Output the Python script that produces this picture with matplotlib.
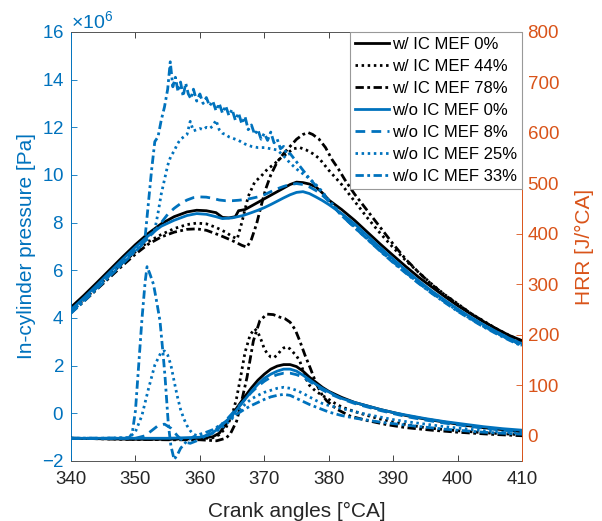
import matplotlib
matplotlib.use('Agg')
import matplotlib.pyplot as plt
import numpy as np

# Arial-like font, plain hyphen minus
plt.rcParams['font.family'] = ['Liberation Sans', 'DejaVu Sans']
plt.rcParams['mathtext.fontset'] = 'custom'
plt.rcParams['mathtext.rm'] = 'Liberation Sans'
plt.rcParams['mathtext.it'] = 'Liberation Sans:italic'
plt.rcParams['axes.unicode_minus'] = False
plt.rcParams['lines.scale_dashes'] = False

BLUE = '#0072BD'
ORANGE = '#D95319'
GREY = '#262626'

# === in-cylinder pressure [x1e6 Pa] ===
ca_p_w0 = [340, 342, 344, 346, 348, 350, 352, 354, 356, 358, 359.5, 361, 362.5, 363.5, 364.5, 365.5,
           366, 367, 368, 369, 370, 371, 372, 373, 374, 375, 376, 377, 378, 379, 380,
           382, 384, 386, 388, 390, 392, 394, 396, 398, 400, 402, 404, 406, 408, 410]
p_w0 = [4.45, 4.95, 5.48, 6.02, 6.56, 7.08, 7.55, 7.95, 8.25, 8.45, 8.52, 8.5, 8.42, 8.22, 8.2, 8.25,
        8.5, 8.55, 8.7, 8.85, 9.0, 9.15, 9.3, 9.45, 9.6, 9.7, 9.68, 9.62, 9.5, 9.25, 8.95,
        8.55, 8.1, 7.6, 7.1, 6.62, 6.15, 5.7, 5.3, 4.9, 4.52, 4.18, 3.85, 3.55, 3.27, 3.05]

ca_p_w44 = [340, 342, 344, 346, 348, 350, 352, 354, 356, 358, 359.5, 361, 362.5, 364, 365, 365.8,
            366.5, 367.5, 368.5, 369.5, 370.5, 371.5, 372.5, 373.5, 374.5, 375.5, 376.5, 377.5, 378.5, 380,
            382, 384, 386, 388, 390, 392, 394, 396, 398, 400, 402, 404, 406, 408, 410]
p_w44 = [4.3, 4.78, 5.28, 5.8, 6.3, 6.78, 7.2, 7.5, 7.75, 7.92, 7.98, 7.95, 7.8, 7.6, 7.42, 7.32,
         8.0, 9.1, 9.7, 9.95, 10.25, 10.45, 10.7, 10.9, 11.1, 11.15, 11.05, 10.9, 10.7, 10.2,
         9.6, 8.9, 8.2, 7.55, 6.95, 6.4, 5.9, 5.42, 4.98, 4.6, 4.2, 3.88, 3.55, 3.27, 3.02]

ca_p_w78 = [340, 342, 344, 346, 348, 350, 352, 354, 356, 358, 359.5, 361, 363, 365, 366.5, 367.3,
            368, 368.8, 369.5, 370.2, 371, 372, 373, 374, 375, 376, 376.8, 377.5, 378.5, 379.5, 380.5,
            381.5, 382.5, 384, 386, 388, 390, 392, 394, 396, 398, 400, 402, 404, 406, 408, 410]
p_w78 = [4.22, 4.7, 5.2, 5.7, 6.2, 6.68, 7.1, 7.4, 7.6, 7.72, 7.74, 7.68, 7.48, 7.25, 7.05, 6.97,
         7.3, 7.95, 8.7, 9.4, 10.0, 10.55, 10.9, 11.2, 11.5, 11.7, 11.78, 11.7, 11.5, 11.15, 10.65,
         10.25, 9.8, 9.2, 8.5, 7.8, 7.1, 6.45, 5.9, 5.4, 4.97, 4.58, 4.2, 3.86, 3.54, 3.25, 2.98]

ca_p_wo0 = [340, 342, 344, 346, 348, 350, 352, 354, 356, 358, 359.5, 361, 362.5, 363.5, 365, 366.7,
            368, 369, 370, 371, 372, 373, 374, 375, 376, 377, 378, 379, 380,
            382, 384, 386, 388, 390, 392, 394, 396, 398, 400, 402, 404, 406, 408, 410]
p_wo0 = [4.35, 4.85, 5.38, 5.92, 6.46, 6.98, 7.45, 7.85, 8.1, 8.3, 8.38, 8.35, 8.25, 8.17, 8.2, 8.3,
         8.42, 8.52, 8.63, 8.76, 8.9, 9.04, 9.17, 9.27, 9.3, 9.22, 9.08, 8.93, 8.76,
         8.38, 7.95, 7.45, 6.95, 6.47, 6.0, 5.55, 5.13, 4.75, 4.38, 4.04, 3.72, 3.43, 3.15, 2.92]

ca_p_wo8 = [340, 342, 344, 346, 348, 350, 352, 353, 354, 355, 356, 357, 358, 359, 360, 361, 362, 363,
            364, 365, 366, 367, 368, 369, 370, 371, 372, 373, 374, 375, 376, 377, 378, 379, 380,
            382, 384, 386, 388, 390, 392, 394, 396, 398, 400, 402, 404, 406, 408, 410]
p_wo8 = [4.25, 4.75, 5.27, 5.8, 6.32, 6.85, 7.35, 7.65, 8.0, 8.35, 8.6, 8.8, 8.95, 9.05, 9.08, 9.07, 9.02, 8.95,
         8.92, 8.92, 8.94, 8.97, 9.02, 9.08, 9.17, 9.3, 9.42, 9.52, 9.6, 9.64, 9.6, 9.5, 9.35, 9.15, 8.9,
         8.3, 7.8, 7.3, 6.82, 6.35, 5.9, 5.46, 5.06, 4.68, 4.32, 3.98, 3.67, 3.38, 3.1, 2.87]

ca_p_wo25 = [340, 342, 344, 346, 348, 350, 351, 352, 353,
             353.5, 354, 354.5, 355, 355.5, 356, 356.5, 357, 357.5, 358, 358.5, 359, 359.5, 360,
             360.5, 361, 361.5, 362, 362.5, 363, 363.5, 364, 364.5, 365,
             366, 367, 368, 369, 370, 371, 372, 373, 374, 375, 376, 377, 378, 379, 380,
             382, 384, 386, 388, 390, 392, 394, 396, 398, 400, 402, 404, 406, 408, 410]
p_wo25 = [4.25, 4.75, 5.27, 5.8, 6.32, 6.85, 7.1, 7.35, 7.7,
          8.4, 9.2, 9.8, 10.4, 10.8, 11.0, 11.3, 11.5, 11.6, 11.7, 12.25, 11.85, 11.9, 11.95,
          11.9, 12.0, 11.95, 12.05, 12.3, 11.9, 11.75, 11.7, 11.6, 11.55,
          11.45, 11.3, 11.2, 11.15, 11.15, 11.1, 11.05, 10.8, 10.5, 10.25, 10.05, 9.85, 9.6, 9.3, 8.95,
          8.35, 7.85, 7.33, 6.83, 6.35, 5.9, 5.46, 5.05, 4.68, 4.3, 3.97, 3.65, 3.37, 3.1, 2.85]

ca_p_wo33 = [340, 342, 344, 346, 348, 350,
             351, 351.5, 352, 352.5, 353, 353.5, 354, 354.5, 355,
             355.4, 355.8, 356.2, 356.6, 357, 357.4, 357.8, 358.2, 358.6, 359,
             359.5, 360, 360.5, 361, 361.5, 362, 362.5, 363, 363.5, 364, 364.5, 365, 365.5, 366,
             366.5, 367, 367.5, 368, 368.5, 369, 369.5, 370, 370.5, 371, 371.5, 372, 372.5, 373, 373.5,
             374, 375, 376, 377, 378, 379, 380,
             382, 384, 386, 388, 390, 392, 394, 396, 398, 400, 402, 404, 406, 408, 410]
p_wo33 = [4.2, 4.7, 5.22, 5.75, 6.27, 6.8,
          7.05, 7.4, 8.8, 10.2, 11.4, 11.6, 12.3, 12.85, 13.6,
          14.75, 13.7, 14.1, 13.5, 13.9, 13.3, 13.85, 13.4, 13.2, 13.6,
          13.1, 13.4, 13.0, 13.25, 12.9, 13.1, 12.7, 13.0, 12.6, 12.9, 12.5, 12.75, 12.3, 12.6,
          12.15, 12.45, 11.9, 12.1, 11.7, 11.9, 11.5, 11.75, 11.45, 11.8, 11.35, 11.5, 11.1, 11.2, 10.85,
          10.9, 10.55, 10.2, 9.85, 9.55, 9.25, 8.9,
          8.3, 7.8, 7.3, 6.8, 6.32, 5.87, 5.44, 5.03, 4.65, 4.28, 3.95, 3.63, 3.34, 3.07, 2.82]

# === heat release rate [J/°CA] ===
ca_q_w0 = [340, 345, 350, 355, 360, 362, 363, 364, 365, 366, 367, 368, 369, 370, 371, 372, 373, 374,
           375, 376, 377, 378, 379, 380, 381, 382, 384, 386, 388, 390, 392, 395, 398, 401, 404, 407, 410]
q_w0 = [-5, -6, -7, -7, -5, -2, 5, 22, 42, 60, 78, 95, 110, 122, 132, 138, 141, 141,
        137, 128, 116, 106, 96, 88, 82, 76, 66, 59, 52, 46, 40, 33, 27, 21, 16, 12, 8]

ca_q_w44 = [340, 345, 350, 355, 360, 362, 363, 364, 365, 365.7, 366.3, 367, 367.8, 368.5, 369,
            369.5, 370, 370.5, 371, 371.5, 372, 372.5, 373, 373.5, 374, 374.5, 375, 375.5, 376, 376.5, 377,
            378, 379, 380, 381, 382, 384, 386, 388, 390, 392, 395, 398, 401, 404, 407, 410]
q_w44 = [-5, -6, -7, -7, -6, -4, 2, 15, 40, 75, 115, 165, 200, 212, 205,
         190, 172, 162, 156, 155, 160, 168, 174, 176, 172, 165, 158, 148, 130, 112, 100,
         88, 80, 72, 64, 57, 48, 40, 33, 27, 22, 16, 12, 9, 6, 4, 2]

ca_q_w78 = [340, 345, 350, 355, 360, 362.6, 364, 364.7, 365.7, 366.5, 367.3, 368.3, 369.3, 370.4, 371.4,
            372.4, 373.2, 374, 374.8, 375.5, 376.3, 377.1, 378.1, 379, 379.7,
            381.2, 383.3, 386, 389, 392, 396, 400, 405, 410]
q_w78 = [-5, -6, -7, -8, -8, -10, -5, 3, 29, 70, 115, 188, 228, 241, 240,
         235, 232, 225, 210, 188, 160, 135, 102, 80, 69,
         53, 39, 30, 22, 16, 11, 7, 3, 0]

ca_q_wo0 = [340, 345, 350, 355, 360, 361.5, 363, 364, 365, 366, 367, 368, 369, 370, 371, 372, 373, 374,
            375, 376, 377, 378, 379, 380, 381, 382, 384, 386, 388, 390, 392, 395, 398, 401, 404, 407, 410]
q_wo0 = [-5, -5, -5, -5, -3, 2, 15, 28, 40, 56, 72, 88, 102, 114, 122, 128, 132, 132,
         128, 120, 111, 102, 94, 87, 80, 74, 66, 59, 52, 46, 41, 34, 28, 23, 18, 14, 11]

ca_q_wo8 = [340, 345, 350, 351.5, 352.5, 353.5, 354.5, 355.5, 356.5, 357.5, 358.5, 359.5, 360.5,
            362, 363, 364, 365, 366, 367, 368, 369, 370, 371, 372, 373, 374, 375, 376, 377, 378, 379, 380,
            382, 384, 386, 388, 390, 392, 395, 398, 401, 404, 407, 410]
q_wo8 = [-5, -5, -5, 0, 10, 20, 23, 15, 0, -12, -15, -10, -3,
         8, 18, 30, 44, 58, 72, 86, 98, 108, 116, 121, 124, 124, 121, 116, 108, 99, 91, 84,
         73, 64, 57, 50, 44, 38, 31, 25, 20, 15, 11, 8]

ca_q_wo25 = [340, 345, 349, 350, 351, 352, 353, 354, 354.5, 355, 355.5, 356, 356.5, 357, 357.5, 358, 358.5,
             359, 360, 361, 362, 363, 364, 365, 366, 367, 368, 369, 370, 371, 372, 373, 374, 375, 376,
             377, 378, 379, 380, 382, 384, 386, 388, 390, 392, 395, 398, 401, 404, 407, 410]
q_wo25 = [-5, -5, -4, 8, 40, 92, 140, 166, 168, 160, 140, 108, 78, 52, 34, 20, 10,
          3, -2, 0, 5, 12, 22, 34, 48, 62, 73, 80, 86, 90, 94, 96, 94, 90, 84,
          77, 70, 64, 60, 54, 48, 42, 37, 32, 28, 23, 18, 14, 10, 7, 5]

ca_q_wo33 = [340, 345, 349, 349.5, 350, 350.5, 351, 351.5, 351.8, 352.2, 352.8, 353.3, 353.8, 354.3, 354.6,
             355.1, 355.5, 356, 356.5, 357, 358, 359, 360, 361, 362, 363, 364, 365, 366, 367, 368, 369,
             370, 371, 372, 373, 374, 375, 376, 377, 378, 379, 380,
             382, 384, 386, 388, 390, 392, 395, 398, 401, 404, 407, 410]
q_wo33 = [-5, -5, -4, 5, 50, 140, 230, 305, 335, 322, 300, 265, 228, 160, 115,
          23, -20, -47, -38, -25, -10, -2, 3, 7, 12, 20, 28, 37, 45, 53, 60, 66,
          72, 77, 80, 82, 80, 74, 68, 62, 57, 52, 47,
          40, 35, 31, 27, 24, 21, 17, 13, 10, 7, 5, 3]

labels = ['w/ IC MEF 0%', 'w/ IC MEF 44%', 'w/ IC MEF 78%',
          'w/o IC MEF 0%', 'w/o IC MEF 8%', 'w/o IC MEF 25%', 'w/o IC MEF 33%']

# line styles (dash lengths in points)
SOLID = '-'
DOT = (0, (1.8, 2.6))
DASH = (0, (7, 4.5))
DASHDOT = (0, (6, 2.5, 2, 2.5))

cases = [
    (labels[0], 'k', SOLID, ca_p_w0, p_w0, ca_q_w0, q_w0),
    (labels[1], 'k', DOT, ca_p_w44, p_w44, ca_q_w44, q_w44),
    (labels[2], 'k', DASHDOT, ca_p_w78, p_w78, ca_q_w78, q_w78),
    (labels[3], BLUE, SOLID, ca_p_wo0, p_wo0, ca_q_wo0, q_wo0),
    (labels[4], BLUE, DASH, ca_p_wo8, p_wo8, ca_q_wo8, q_wo8),
    (labels[5], BLUE, DOT, ca_p_wo25, p_wo25, ca_q_wo25, q_wo25),
    (labels[6], BLUE, DASHDOT, ca_p_wo33, p_wo33, ca_q_wo33, q_wo33),
]

fig = plt.figure(figsize=(6.02, 5.21), dpi=100)
ax = fig.add_axes([0.118, 0.1152, 0.7492, 0.8234])
ax2 = ax.twinx()

handles = []
for lab, col, ls, ca_p, p, ca_q, q in cases:
    h, = ax.plot(ca_p, np.array(p) * 1e6, color=col, linestyle=ls, lw=2.0, label=lab)
    ax2.plot(ca_q, q, color=col, linestyle=ls, lw=2.0)
    handles.append(h)

# x axis
ax.set_xlim(340, 410)
ax.set_xticks(np.arange(340, 411, 10))
ax.set_xlabel('Crank angles [°CA]', fontsize=15, color=GREY)
ax.xaxis.set_label_coords(0.5, -0.096)

# left axis - pressure
ax.set_ylim(-2e6, 16e6)
ax.set_yticks(np.arange(-2, 17, 2) * 1e6)
ax.ticklabel_format(axis='y', style='sci', scilimits=(6, 6), useMathText=True)
ax.yaxis.get_offset_text().set_color(BLUE)
ax.yaxis.get_offset_text().set_fontsize(14)
ax.set_ylabel('In-cylinder pressure [Pa]', fontsize=15, color=BLUE)
ax.yaxis.set_label_coords(-0.078, 0.5)

# right axis - HRR
ax2.set_ylim(-50, 800)
ax2.set_yticks(np.arange(0, 801, 100))
ax2.set_ylabel('HRR [J/°CA]', fontsize=15, color=ORANGE)
ax2.yaxis.set_label_coords(1.1175, 0.5)

ax.tick_params(axis='x', direction='in', length=4, width=0.6, color=GREY, labelcolor=GREY,
               labelsize=13.5, pad=7, top=True)
ax.tick_params(axis='y', direction='in', length=4, width=0.6, color=BLUE, labelcolor=BLUE,
               labelsize=13.5, pad=5)
ax2.tick_params(axis='y', direction='in', length=4, width=0.6, color=ORANGE, labelcolor=ORANGE,
                labelsize=13.5, pad=4)

for s in ['top', 'bottom']:
    ax.spines[s].set_color('#555555')
    ax.spines[s].set_linewidth(0.7)
    ax2.spines[s].set_visible(False)
ax.spines['left'].set_color(BLUE)
ax.spines['left'].set_linewidth(0.7)
ax.spines['right'].set_visible(False)
ax2.spines['left'].set_visible(False)
ax2.spines['right'].set_color(ORANGE)
ax2.spines['right'].set_linewidth(0.7)

leg = ax2.legend(handles, labels, loc='upper right', bbox_to_anchor=(1.0, 1.0), borderaxespad=0,
                 fontsize=12, labelspacing=0.42, borderpad=0.3, handlelength=2.0, handletextpad=0.2,
                 fancybox=False, framealpha=1, edgecolor='#999999')
leg.get_frame().set_linewidth(0.8)

plt.savefig('out.png', dpi=100)
